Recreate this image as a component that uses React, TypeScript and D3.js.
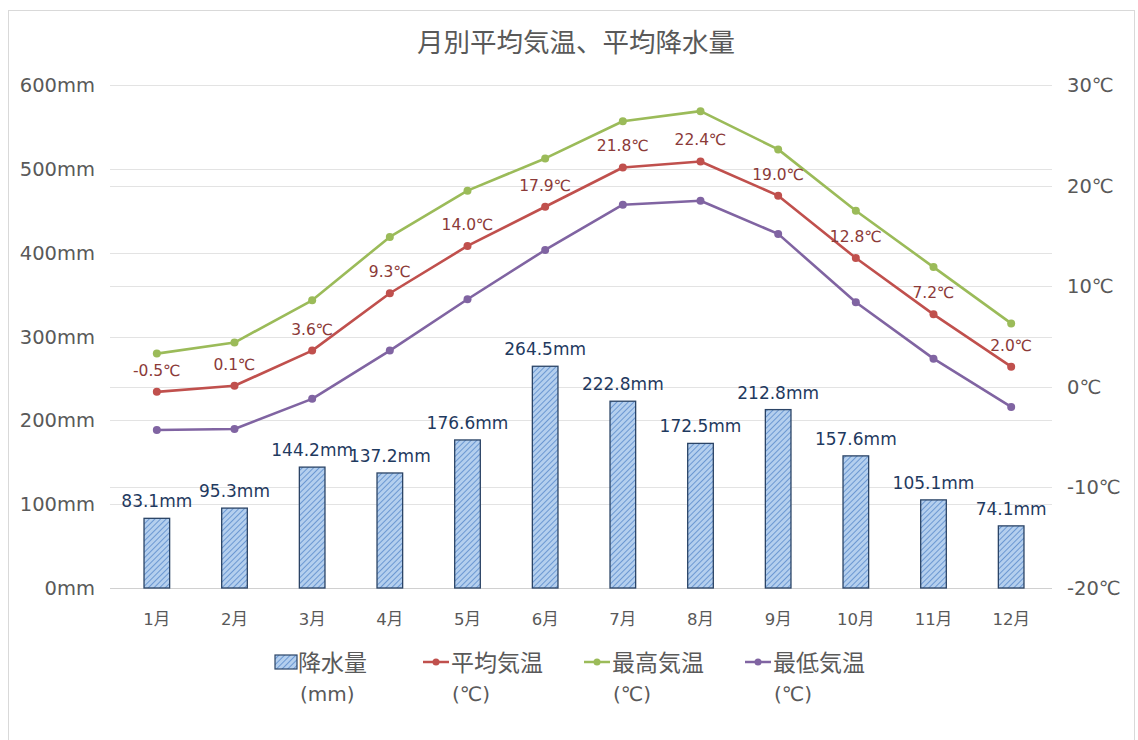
import React from "react";
import * as d3 from "d3";

const months = ["1月","2月","3月","4月","5月","6月","7月","8月","9月","10月","11月","12月"];
const precipitation = [83.1, 95.3, 144.2, 137.2, 176.6, 264.5, 222.8, 172.5, 212.8, 157.6, 105.1, 74.1];
const avgTemp = [-0.5, 0.1, 3.6, 9.3, 14.0, 17.9, 21.8, 22.4, 19.0, 12.8, 7.2, 2.0];
const maxTemp = [3.3, 4.4, 8.6, 14.9, 19.5, 22.7, 26.4, 27.4, 23.6, 17.5, 11.9, 6.3];
const minTemp = [-4.3, -4.2, -1.2, 3.6, 8.7, 13.6, 18.1, 18.5, 15.2, 8.4, 2.8, -2.0];
const mmTicks = [0, 100, 200, 300, 400, 500, 600];
const tempTicks = [-20, -10, 0, 10, 20, 30];

const W = 1138, H = 740;
const font = "'DejaVu Sans', 'Noto Sans CJK JP', sans-serif";
const cjk = "'Noto Sans CJK JP', sans-serif";
const gray = "#595959";

export default function App() {
  const x = d3.scaleBand<string>().domain(months).range([118, 1050]).paddingInner(0.67).paddingOuter(0.335);
  const yL = d3.scaleLinear().domain([0, 600]).range([588, 85]);
  const yR = d3.scaleLinear().domain([-20, 30]).range([588, 85]);
  const cx = (m: string) => (x(m) as number) + x.bandwidth() / 2;
  const line = d3.line<number>().x((_, i) => cx(months[i])).y((d) => yR(d));

  const series = [
    { name: "平均気温", data: avgTemp, color: "#C0504D" },
    { name: "最高気温", data: maxTemp, color: "#9BBB59" },
    { name: "最低気温", data: minTemp, color: "#8064A2" },
  ];

  const legendX = [275, 423, 584, 745];

  return (
    <svg width={W} height={H} style={{ position: "absolute", left: 0, top: 0, background: "#fff" }}>
      <defs>
        <pattern id="hatch" patternUnits="userSpaceOnUse" width="4" height="4" patternTransform="rotate(45)">
          <rect width="4" height="4" fill="#B4CFEE" />
          <line x1="0" y1="0" x2="0" y2="4" stroke="#5A8ACB" strokeWidth="1.6" />
        </pattern>
      </defs>
      <rect x={8.5} y={10.5} width={1126} height={740} fill="#fff" stroke="#D9D9D9" strokeWidth={1} />
      <text x={576} y={52} textAnchor="middle" fontFamily={cjk} fontSize={26.5} fill={gray}>月別平均気温、平均降水量</text>

      {mmTicks.map((t) => (
        <line key={"gl" + t} x1={110} x2={1052} y1={Math.round(yL(t)) + 0.5} y2={Math.round(yL(t)) + 0.5} stroke="#E3E3E3" strokeWidth={1} />
      ))}
      {tempTicks.map((t) => (
        <line key={"gr" + t} x1={110} x2={1052} y1={Math.round(yR(t)) + 0.5} y2={Math.round(yR(t)) + 0.5} stroke="#E3E3E3" strokeWidth={1} />
      ))}
      <line x1={110} x2={1052} y1={588.5} y2={588.5} stroke="#D0D0D0" strokeWidth={1} />

      {mmTicks.map((t) => (
        <text key={"tl" + t} x={95} y={yL(t) + 7} textAnchor="end" fontFamily={font} fontSize={19.5} fill={gray}>{t}mm</text>
      ))}
      {tempTicks.map((t) => (
        <text key={"tr" + t} x={1067} y={yR(t) + 7} textAnchor="start" fontFamily={font} fontSize={19.5} fill={gray}>{t}℃</text>
      ))}
      {months.map((m) => (
        <text key={"m" + m} x={cx(m)} y={625} textAnchor="middle" fontFamily={font} fontSize={16.5} fill={gray}>{m}</text>
      ))}

      {precipitation.map((v, i) => (
        <rect key={"b" + i} x={x(months[i])} y={yL(v)} width={x.bandwidth()} height={yL(0) - yL(v)} fill="url(#hatch)" stroke="#2B4466" strokeWidth={1.3} />
      ))}
      {precipitation.map((v, i) => (
        <text key={"bl" + i} x={cx(months[i])} y={yL(v) - 11} textAnchor="middle" fontFamily={font} fontSize={17} fill="#1F3A5F">{v.toFixed(1)}mm</text>
      ))}

      {series.map((s) => (
        <g key={s.name}>
          <path d={line(s.data) || ""} fill="none" stroke={s.color} strokeWidth={2.6} strokeLinejoin="round" />
          {s.data.map((v, i) => (
            <circle key={i} cx={cx(months[i])} cy={yR(v)} r={4} fill={s.color} />
          ))}
        </g>
      ))}
      {avgTemp.map((v, i) => (
        <text key={"al" + i} x={cx(months[i])} y={yR(v) - 16} textAnchor="middle" fontFamily={font} fontSize={15.5} fill="#8B3A38">{v.toFixed(1)}℃</text>
      ))}

      {/* legend */}
      <rect x={legendX[0]} y={655} width={22} height={14} fill="url(#hatch)" stroke="#2B4466" strokeWidth={1.2} />
      <text x={legendX[0] + 23} y={671} fontFamily={cjk} fontSize={23} fill={gray}>降水量</text>
      <text x={legendX[0] + 25} y={701} fontFamily={font} fontSize={20} fill={gray}>(mm)</text>
      {series.map((s, k) => {
        const lx = legendX[k + 1];
        return (
          <g key={"lg" + k}>
            <line x1={lx} x2={lx + 26} y1={662} y2={662} stroke={s.color} strokeWidth={2.5} />
            <circle cx={lx + 13} cy={662} r={3.5} fill={s.color} />
            <text x={lx + 28} y={671} fontFamily={cjk} fontSize={23} fill={gray}>{s.name}</text>
            <text x={lx + 29} y={701} fontFamily={font} fontSize={20} fill={gray}>(℃)</text>
          </g>
        );
      })}
    </svg>
  );
}
